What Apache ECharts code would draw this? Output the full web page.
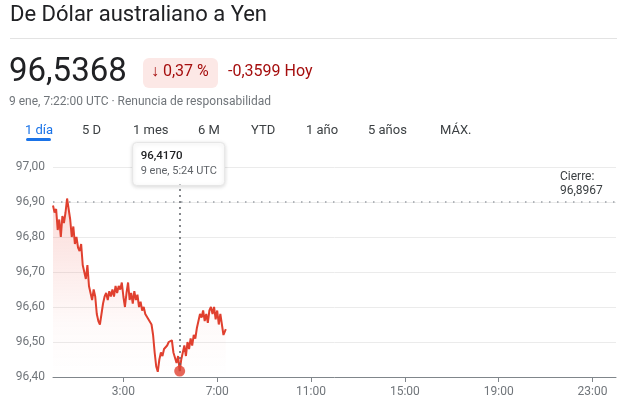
<!DOCTYPE html>
<html><head><meta charset="utf-8">
<script src="https://cdn.jsdelivr.net/npm/echarts@6/dist/echarts.min.js"></script>
<style>html,body{margin:0;padding:0;background:#fff}#c{width:629px;height:408px}</style>
</head><body><div id="c"></div>
<script>
// ---- data (AUD→JPY, 9 ene, UTC) ----
const stepMinutes = 4;
const prices = [
 96.89,96.87,96.88,96.82,96.85,96.80,96.86,96.84,96.87,96.91,
 96.88,96.85,96.80,96.83,96.78,96.80,96.77,96.76,96.78,96.72,
 96.70,96.68,96.72,96.66,96.64,96.62,96.65,96.63,96.58,96.56,
 96.55,96.58,96.61,96.63,96.64,96.62,96.645,96.63,96.65,96.63,
 96.66,96.64,96.66,96.65,96.67,96.63,96.60,96.64,96.67,96.62,
 96.64,96.61,96.645,96.62,96.635,96.60,96.615,96.59,96.60,96.58,
 96.585,96.565,96.57,96.55,96.52,96.47,96.43,96.415,96.45,96.47,
 96.46,96.48,96.475,96.49,96.50,96.495,96.505,96.47,96.455,96.44,
 96.46,96.417,96.45,96.47,96.49,96.46,96.50,96.48,96.51,96.49,
 96.52,96.51,96.54,96.56,96.58,96.57,96.59,96.56,96.58,96.555,
 96.59,96.60,96.58,96.60,96.565,96.59,96.55,96.58,96.55,96.52,
 96.5368
];
const lastMinute = 442;            // 7:22 UTC
const closePrev = 96.8967;         // Cierre
const hoverMinute = 324;           // 5:24 UTC
const hoverPrice = 96.4170;
const xTickMinutes = [180, 420, 660, 900, 1140, 1380];
const tabs = ["1 día","5 D","1 mes","6 M","YTD","1 año","5 años","MÁX."];
const tabX = [25, 82, 133, 198, 251, 306, 368, 440];

const seriesData = prices.map((v, i) => [i === prices.length - 1 ? lastMinute : i * stepMinutes, v]);
const comma = (v, d) => v.toFixed(d).replace('.', ',');

const FONT = 'Roboto, "Liberation Sans", Arial, sans-serif';
const RED = '#e0402f';
const chart = echarts.init(document.getElementById('c'), null, {renderer: 'canvas'});

const option = {
  animation: false,
  textStyle: {fontFamily: FONT},
  grid: {left: 53, right: 13, top: 167, bottom: 31},
  xAxis: {
    type: 'value', min: 0, max: 1440,
    axisLine: {show: true, lineStyle: {color: '#80868b', width: 1}},
    axisTick: {show: true, customValues: xTickMinutes, length: 5, lineStyle: {color: '#80868b'}},
    axisLabel: {customValues: xTickMinutes, color: '#70757a', fontSize: 12, margin: 9,
      formatter: v => Math.round(v / 60) + ':00'},
    splitLine: {show: false}
  },
  yAxis: {
    type: 'value', min: 96.4, max: 97.0, interval: 0.1,
    axisLine: {show: false}, axisTick: {show: false},
    axisLabel: {color: '#70757a', fontSize: 12, margin: 8, formatter: v => comma(v, 2)},
    splitLine: {lineStyle: {color: '#ebebeb'}}
  },
  series: [
    {
      type: 'line', data: seriesData, showSymbol: false, symbol: 'none',
      lineStyle: {color: RED, width: 2},
      areaStyle: {origin: 'start', color: new echarts.graphic.LinearGradient(0, 0, 0, 1, [
        {offset: 0, color: 'rgba(234,67,53,0.28)'},
        {offset: 0.7, color: 'rgba(234,67,53,0.04)'},
        {offset: 1, color: 'rgba(234,67,53,0)'}])},
      markLine: {
        silent: true, symbol: ['none', 'none'], label: {show: false},
        data: [
          {yAxis: closePrev, lineStyle: {color: '#9aa0a6', type: [1.5, 6.5], width: 1.5}},
          [{coord: [hoverMinute, hoverPrice]}, {coord: [hoverMinute, 96.95]}]
        ],
        lineStyle: {color: '#5f6368', type: [2, 4], width: 1.5}
      }
    },
    {
      type: 'scatter', data: [[hoverMinute, hoverPrice]], symbolSize: 11,
      itemStyle: {color: RED}, z: 5
    }
  ]
};
chart.setOption(option);

const tip = chart.convertToPixel({gridIndex: 0}, [hoverMinute, 96.95]);
const closeY = chart.convertToPixel({yAxisIndex: 0}, closePrev);

const graphics = [
  {type: 'text', left: 10, top: 4, style: {text: 'De Dólar australiano a Yen', font: '400 22px ' + FONT, fill: '#202124'}},
  {type: 'rect', shape: {x: 10, y: 38, width: 607, height: 1}, style: {fill: '#e3e3e3'}},
  {type: 'text', left: 9, top: 56, style: {text: comma(prices[prices.length - 1], 4), font: '400 33px ' + FONT, fill: '#202124'}},
  {type: 'rect', shape: {x: 143, y: 58, width: 75, height: 30, r: 6}, style: {fill: '#fce8e6'}},
  {type: 'text', left: 151, top: 64, style: {text: '↓ 0,37 %', font: '400 16px ' + FONT, fill: '#a50e0e'}},
  {type: 'text', left: 228, top: 64, style: {text: '-0,3599 Hoy', font: '400 16px ' + FONT, fill: '#a50e0e'}},
  {type: 'text', left: 9, top: 96, style: {text: '9 ene, 7:22:00 UTC · Renuncia de responsabilidad', font: '400 12px ' + FONT, fill: '#70757a'}},
  {type: 'rect', shape: {x: 26, y: 138, width: 25, height: 3, r: 1.5}, style: {fill: '#1a73e8'}},
  {type: 'text', left: 560, top: closeY - 33, style: {text: 'Cierre:\n' + comma(closePrev, 4), font: '400 12px ' + FONT, fill: '#3c4043', lineHeight: 14}},
  {type: 'group', x: tip[0] - 47, y: tip[1] - 42, z: 100, children: [
    {type: 'rect', shape: {x: 0, y: 0, width: 92, height: 43, r: 4},
      style: {fill: '#fff', stroke: '#e6e6e6', lineWidth: 1, shadowBlur: 4, shadowColor: 'rgba(0,0,0,0.15)', shadowOffsetY: 1}},
    {type: 'text', x: 8, y: 8, style: {text: comma(hoverPrice, 4), font: '500 11.5px ' + FONT, fill: '#202124'}},
    {type: 'text', x: 8, y: 23, style: {text: '9 ene, 5:24 UTC', font: '400 11px ' + FONT, fill: '#5f6368'}}
  ]}
];
tabs.forEach((t, i) => graphics.push({type: 'text', left: tabX[i], top: 124,
  style: {text: t, font: '400 13px ' + FONT, fill: i === 0 ? '#1a73e8' : '#3c4043'}}));
chart.setOption({graphic: graphics});
</script>
</body></html>
